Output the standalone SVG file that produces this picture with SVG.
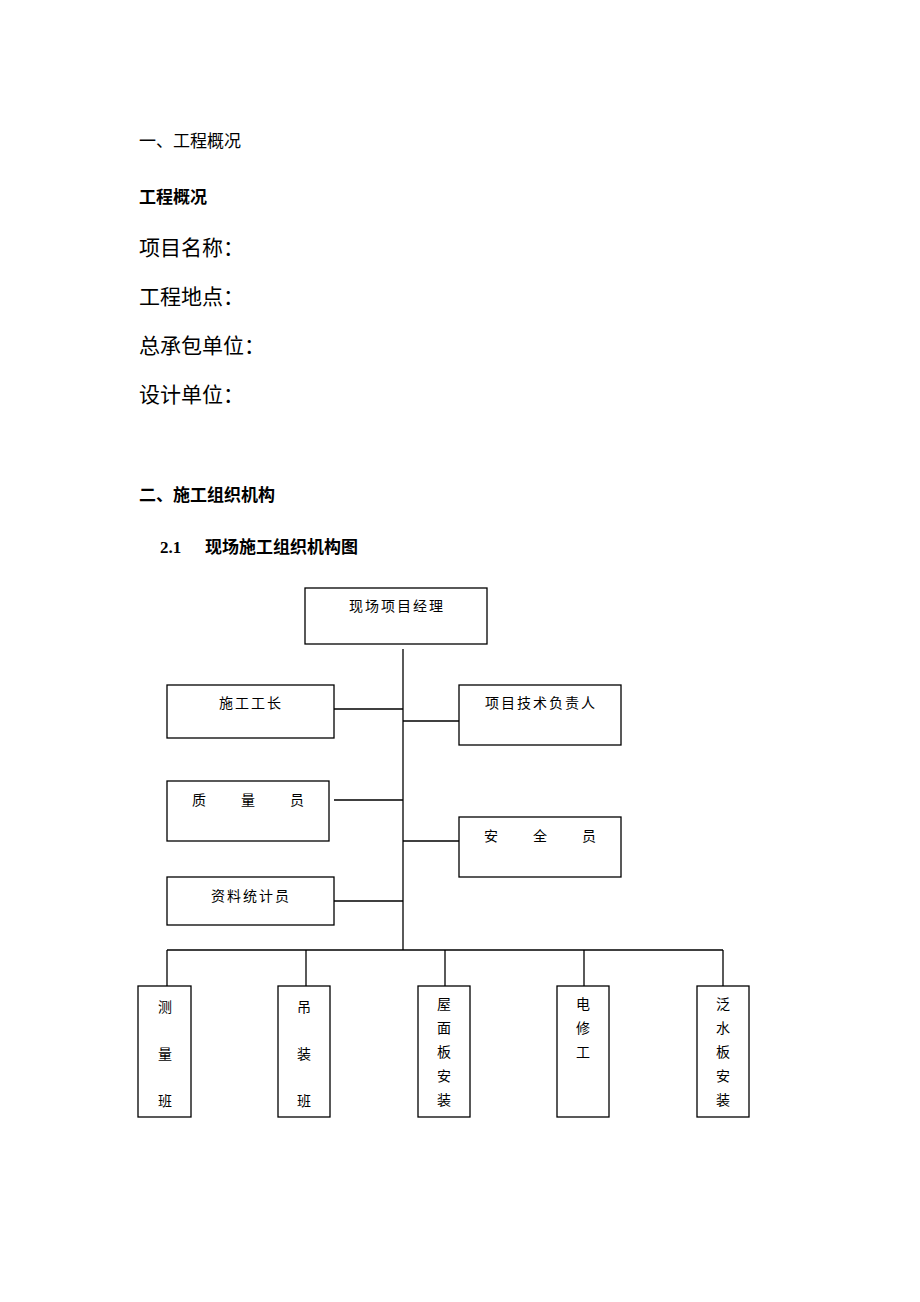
<svg xmlns="http://www.w3.org/2000/svg" width="920" height="1302" viewBox="0 0 920 1302">
<style>
text{font-family:"Liberation Serif","Noto Sans CJK SC",serif;fill:#000}
.h{font-size:17px}
.b{font-size:17px;font-weight:bold}
.l{font-size:21px}
.n{font-size:14px;text-anchor:middle}
.s{letter-spacing:2px}
.bx{fill:#fff;stroke:#000;stroke-width:1.3}
.c line{stroke:#000;stroke-width:1.3}
</style>
<rect width="920" height="1302" fill="#fff"/>
<text class="h" x="139" y="147">一、工程概况</text>
<text class="b" x="139" y="203">工程概况</text>
<text class="l" x="139" y="255">项目名称：</text>
<text class="l" x="139" y="304">工程地点：</text>
<text class="l" x="139" y="353">总承包单位：</text>
<text class="l" x="139" y="402">设计单位：</text>
<text class="b" x="139" y="501">二、施工组织机构</text>
<text class="b" x="160" y="553">2.1</text>
<text class="b" x="205" y="553">现场施工组织机构图</text>
<g class="c">
<line x1="403" y1="649" x2="403" y2="950"/>
<line x1="334" y1="709" x2="403" y2="709"/>
<line x1="403" y1="721" x2="459" y2="721"/>
<line x1="334" y1="800" x2="403" y2="800"/>
<line x1="403" y1="841" x2="459" y2="841"/>
<line x1="334" y1="901" x2="403" y2="901"/>
<line x1="167" y1="950" x2="723" y2="950"/>
<line x1="167" y1="950" x2="167" y2="986"/>
<line x1="306" y1="950" x2="306" y2="986"/>
<line x1="445" y1="950" x2="445" y2="986"/>
<line x1="584" y1="950" x2="584" y2="986"/>
<line x1="723" y1="950" x2="723" y2="986"/>
</g>
<g id="pm"><rect class="bx" x="305" y="588" width="182" height="56"/><text class="n s" x="397" y="611">现场项目经理</text></g>
<g id="sg"><rect class="bx" x="167" y="685" width="167" height="53"/><text class="n s" x="251" y="708">施工工长</text></g>
<g id="js"><rect class="bx" x="459" y="685" width="162" height="60"/><text class="n s" x="541" y="708">项目技术负责人</text></g>
<g id="zl"><rect class="bx" x="167" y="781" width="162" height="60"/><text class="n" x="199" y="805">质</text><text class="n" x="248" y="805">量</text><text class="n" x="297" y="805">员</text></g>
<g id="aq"><rect class="bx" x="459" y="817" width="162" height="60"/><text class="n" x="491" y="841">安</text><text class="n" x="540" y="841">全</text><text class="n" x="589" y="841">员</text></g>
<g id="zlt"><rect class="bx" x="167" y="877" width="167" height="48"/><text class="n s" x="251" y="901">资料统计员</text></g>
<g id="b1"><rect class="bx" x="138" y="986" width="53" height="131"/><text class="n" x="165" y="1012">测</text><text class="n" x="165" y="1059">量</text><text class="n" x="165" y="1106">班</text></g>
<g id="b2"><rect class="bx" x="278" y="986" width="52" height="131"/><text class="n" x="304" y="1012">吊</text><text class="n" x="304" y="1059">装</text><text class="n" x="304" y="1106">班</text></g>
<g id="b3"><rect class="bx" x="418" y="986" width="52" height="131"/><text class="n" x="444" y="1009">屋</text><text class="n" x="444" y="1033">面</text><text class="n" x="444" y="1057">板</text><text class="n" x="444" y="1081">安</text><text class="n" x="444" y="1105">装</text></g>
<g id="b4"><rect class="bx" x="557" y="986" width="52" height="131"/><text class="n" x="583" y="1009">电</text><text class="n" x="583" y="1033">修</text><text class="n" x="583" y="1057">工</text></g>
<g id="b5"><rect class="bx" x="697" y="986" width="52" height="131"/><text class="n" x="723" y="1009">泛</text><text class="n" x="723" y="1033">水</text><text class="n" x="723" y="1057">板</text><text class="n" x="723" y="1081">安</text><text class="n" x="723" y="1105">装</text></g>
</svg>
